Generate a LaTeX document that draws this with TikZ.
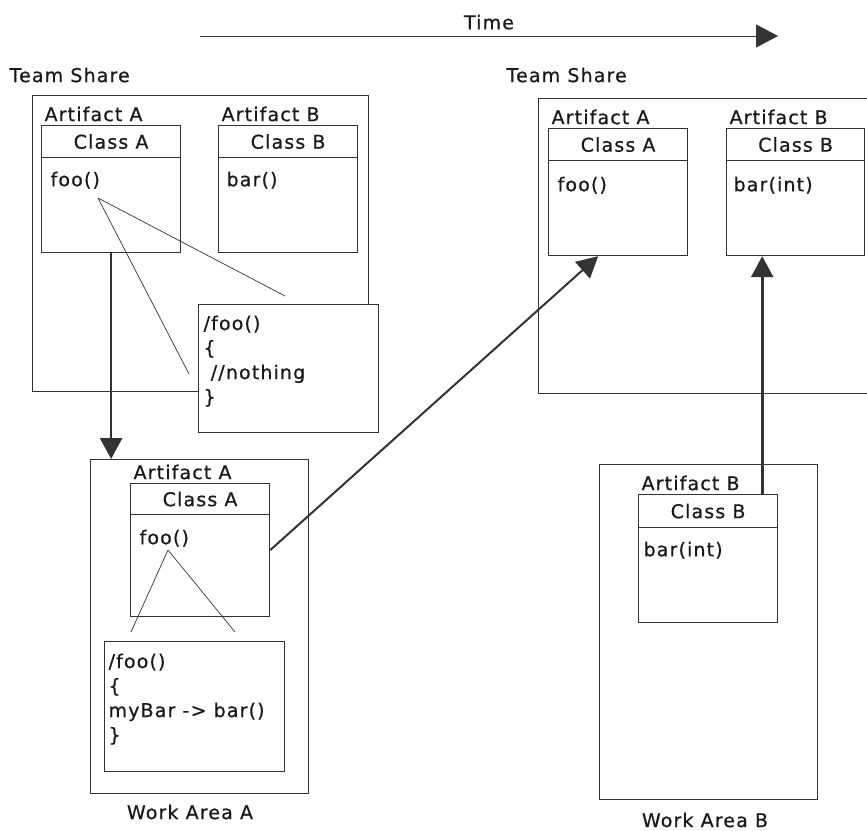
\documentclass[tikz,border=0pt]{standalone}
\usepackage{fontspec}
\setmainfont{DejaVu Sans}[LetterSpace=6,FakeBold=0.6]
\usetikzlibrary{arrows.meta,positioning}

\begin{document}
\begin{tikzpicture}[
  x=1pt,y=-1pt,
  black!80,line width=1.2pt,
  every node/.style={font=\fontsize{19}{24.5}\selectfont,inner sep=1pt,text=black!90},
  area/.style={draw,anchor=north west,inner sep=0pt},
  classbox/.style={draw,fill=white,anchor=north west,minimum width=139pt,minimum height=127pt,inner sep=0pt},
  classhead/.style={draw,anchor=north,minimum width=139pt,minimum height=32pt,inner sep=0pt},
  artifact/.style={anchor=south west,inner sep=3pt},
  method/.style={anchor=north west,inner sep=0pt},
  note/.style={draw,fill=white,anchor=north west,inner sep=0pt},
  code/.style={anchor=north west,align=left,inner sep=0pt},
  link/.style={line width=0.7pt},
  move/.style={line width=2.6pt,-{Triangle[length=21pt,width=22pt]}},
  ]
  \clip (0,0) rectangle (867,830);

  % time line
  \coordinate (t0) at (200,36);
  \coordinate (t1) at (778,36);
  \draw[line width=1pt,-{Triangle[length=22pt,width=23pt]}]
    (t0) -- node[above=6pt,inner sep=0pt](time){Time} (t1);

  % team share, before
  \node[area,minimum width=336pt,minimum height=296pt](ts1) at (32,95){};
  \node[anchor=west](ts1name) at (8,75){Team Share};
  \node[classbox](ca1) at (41,125){};
  \node[classhead](ha1) at (ca1.north){Class A};
  \node[artifact](aa1) at (ca1.north west){Artifact A};
  \node[method](ma1) at ([xshift=9pt,yshift=-13pt]ha1.south west){foo()};
  \node[classbox](cb1) at (218,125){};
  \node[classhead](hb1) at (cb1.north){Class B};
  \node[artifact](ab1) at (cb1.north west){Artifact B};
  \node[method](mb1) at ([xshift=8pt,yshift=-13pt]hb1.south west){bar()};
  \node[note,minimum width=180pt,minimum height=128pt](n1) at (198,304){};
  \node[code](c1) at ([xshift=5pt,yshift=-11pt]n1.north west){/foo()\\\{\\\ //nothing\\\}};
  \coordinate (f1) at (98,198);
  \coordinate (f1r) at (285,296);
  \coordinate (f1l) at (189,374);
  \draw[link] (f1) -- (f1r) (f1) -- (f1l);

  % work area A
  \node[area,minimum width=218pt,minimum height=334pt](wa1) at (90,459){};
  \node(wa1name) at (190,812){Work Area A};
  \node[classbox,minimum height=133pt](ca2) at (130,483){};
  \node[classhead,minimum height=31pt](ha2) at (ca2.north){Class A};
  \node[artifact](aa2) at (ca2.north west){Artifact A};
  \node[method](ma2) at ([xshift=9pt,yshift=-14pt]ha2.south west){foo()};
  \node[note,minimum width=180pt,minimum height=130pt](n2) at (104,641){};
  \node[code](c2) at ([xshift=4pt,yshift=-12pt]n2.north west){/foo()\\\{\\myBar -> bar()\\\}};
  \coordinate (f2) at (168,550);
  \coordinate (f2l) at (131,632);
  \coordinate (f2r) at (235,632);
  \draw[link] (f2) -- (f2l) (f2) -- (f2r);

  % team share, after
  \node[area,minimum width=350pt,minimum height=295pt](ts2) at (538,98){};
  \node[anchor=west](ts2name) at (505,75){Team Share};
  \node[classbox](ca3) at (548,128){};
  \node[classhead](ha3) at (ca3.north){Class A};
  \node[artifact](aa3) at (ca3.north west){Artifact A};
  \node[method](ma3) at ([xshift=9pt,yshift=-15pt]ha3.south west){foo()};
  \node[classbox,minimum width=138pt](cb3) at (726,128){};
  \node[classhead,minimum width=138pt](hb3) at (cb3.north){Class B};
  \node[artifact](ab3) at (cb3.north west){Artifact B};
  \node[method](mb3) at ([xshift=7pt,yshift=-15pt]hb3.south west){bar(int)};

  % work area B
  \node[area,minimum width=218pt,minimum height=335pt](wa2) at (599,464){};
  \node(wa2name) at (705,820){Work Area B};
  \node[classbox,minimum height=128pt](cb2) at (638,494){};
  \node[classhead,minimum height=33pt](hb2) at (cb2.north){Class B};
  \node[artifact](ab2) at (cb2.north west){Artifact B};
  \node[method](mb2) at ([xshift=5pt,yshift=-13pt]hb2.south west){bar(int)};

  % moves
  \draw[move] (ca1.south) -- (ca1.south |- wa1.north);
  \draw[move,line width=2pt] (ca2.east) -- ([xshift=-20pt]ca3.south);
  \draw[move] ([xshift=-16pt]cb2.north east) -- ([xshift=-16pt]cb2.north east |- cb3.south);
\end{tikzpicture}
\end{document}
